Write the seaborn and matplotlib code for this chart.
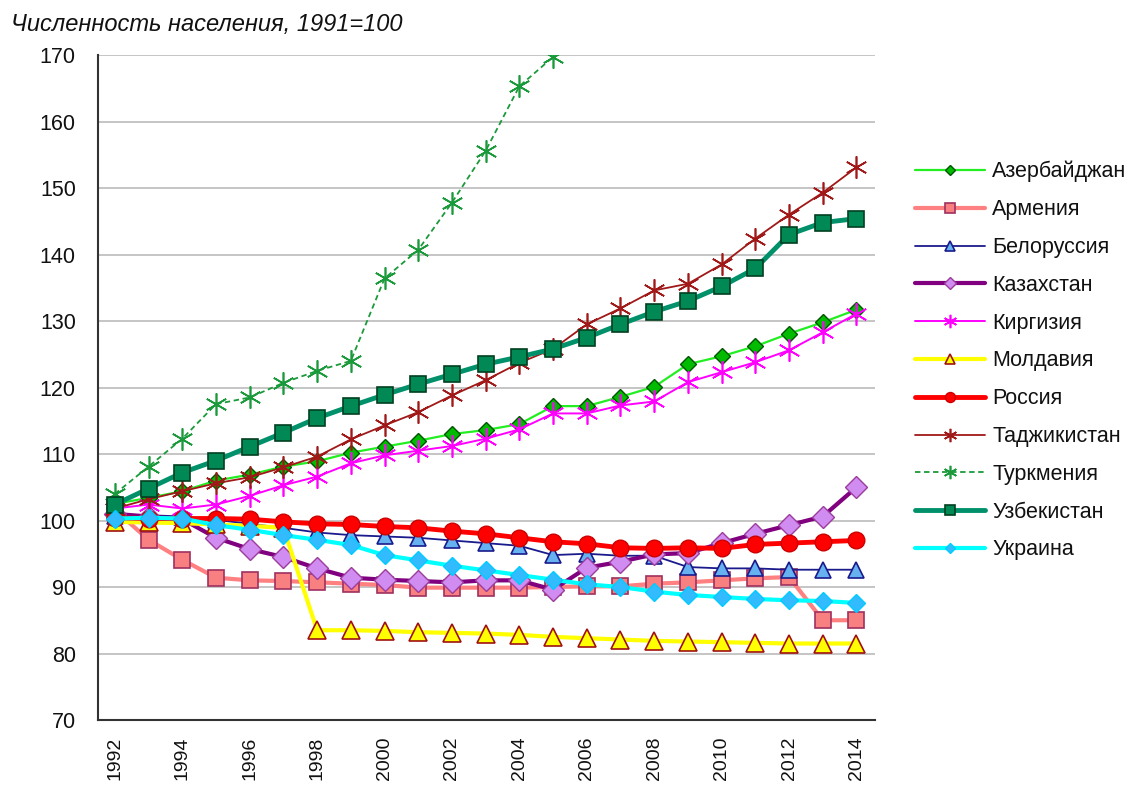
import matplotlib
matplotlib.use("Agg")
import matplotlib.pyplot as plt
import seaborn as sns
import numpy as np
import pandas as pd

years = list(range(1992, 2015))

azerbaijan = [102.5, 103.4, 104.4, 106.0, 106.9, 108.1, 108.9, 110.2, 111.1, 112.0, 113.0, 113.6,
              114.5, 117.2, 117.2, 118.6, 120.1, 123.5, 124.7, 126.2, 128.1, 129.8, 131.7]
armenia = [101.6, 97.1, 94.1, 91.4, 91.0, 90.9, 90.7, 90.5, 90.3, 89.9, 89.9, 89.9,
           89.9, 90.0, 90.1, 90.1, 90.5, 90.7, 91.0, 91.3, 91.5, 85.0, 85.0]
belarus = [100.7, 100.8, 100.6, 100.1, 99.5, 98.9, 98.2, 97.8, 97.6, 97.4, 97.0, 96.6,
           96.2, 94.8, 95.0, 94.7, 94.7, 93.0, 92.8, 92.8, 92.6, 92.6, 92.6]
kazakhstan = [101.0, 100.6, 100.2, 97.4, 95.7, 94.5, 92.8, 91.4, 91.1, 90.9, 90.7, 91.0,
              91.0, 89.6, 92.9, 93.8, 94.9, 95.1, 96.6, 98.0, 99.3, 100.6, 105.0]
kyrgyzstan = [101.8, 102.4, 101.8, 102.4, 103.7, 105.3, 106.6, 108.6, 109.8, 110.5, 111.2, 112.3,
              113.7, 116.1, 116.1, 117.3, 117.9, 120.8, 122.3, 123.8, 125.6, 128.3, 131.1]
moldova = [99.8, 99.7, 99.6, 99.4, 99.2, 98.9, 83.5, 83.5, 83.4, 83.2, 83.1, 83.0,
           82.8, 82.5, 82.3, 82.1, 81.9, 81.8, 81.7, 81.6, 81.5, 81.5, 81.5]
russia = [100.4, 100.3, 100.3, 100.3, 100.2, 99.8, 99.5, 99.4, 99.1, 98.9, 98.4, 98.0,
          97.4, 96.8, 96.5, 95.9, 95.8, 95.9, 95.8, 96.4, 96.6, 96.8, 97.0]
tajikistan = [101.8, 103.2, 104.4, 105.6, 106.5, 108.0, 109.6, 112.2, 114.3, 116.3, 118.8, 121.1,
              123.7, 125.8, 129.5, 131.9, 134.6, 135.6, 138.5, 142.4, 146.0, 149.3, 153.1]
turkmenistan = [104.0, 108.1, 112.3, 117.5, 118.5, 120.7, 122.5, 124.0, 136.4, 140.7, 147.8, 155.6,
                165.3, 169.7, None, None, None, None, None, None, None, None, None]
uzbekistan = [102.4, 104.8, 107.2, 109.0, 111.1, 113.2, 115.4, 117.2, 118.9, 120.5, 122.0, 123.5,
              124.6, 125.8, 127.5, 129.5, 131.4, 133.0, 135.2, 137.9, 143.0, 144.8, 145.4]
ukraine = [100.3, 100.4, 100.3, 99.3, 98.6, 97.8, 97.1, 96.3, 94.8, 94.0, 93.2, 92.5,
           91.8, 91.1, 90.4, 90.0, 89.3, 88.8, 88.5, 88.2, 88.0, 87.9, 87.6]

names = ["Азербайджан", "Армения", "Белоруссия", "Казахстан", "Киргизия", "Молдавия",
         "Россия", "Таджикистан", "Туркмения", "Узбекистан", "Украина"]
series = [azerbaijan, armenia, belarus, kazakhstan, kyrgyzstan, moldova,
          russia, tajikistan, turkmenistan, uzbekistan, ukraine]

ast6 = (6, 2, 0)
styles = {
    "Азербайджан": dict(color="#22ee22", lw=1.6, ls="-", marker="D", ms=8, mfc="#00bb00", mec="#005500", mew=1.0),
    "Армения": dict(color="#ff8080", lw=3.0, ls="-", marker="s", ms=12, mfc="#f88080", mec="#a03060", mew=1.2),
    "Белоруссия": dict(color="#1a1a8c", lw=1.3, ls="-", marker="^", ms=12, mfc="#66b2f0", mec="#1a1a8c", mew=1.2),
    "Казахстан": dict(color="#800080", lw=3.0, ls="-", marker="D", ms=11, mfc="#d08cf0", mec="#9c3c9c", mew=1.0),
    "Киргизия": dict(color="#ff00ff", lw=1.4, ls="-", marker=ast6, ms=16, mfc="#ff00ff", mec="#ff00ff", mew=1.2),
    "Молдавия": dict(color="#ffff00", lw=3.0, ls="-", marker="^", ms=13, mfc="#ffff00", mec="#a01010", mew=1.2),
    "Россия": dict(color="#ff0000", lw=3.5, ls="-", marker="o", ms=12, mfc="#ff0000", mec="#cc0000", mew=1.0),
    "Таджикистан": dict(color="#a01818", lw=1.3, ls="-", marker=ast6, ms=16, mfc="#a01818", mec="#a01818", mew=1.2),
    "Туркмения": dict(color="#1a9a3a", lw=1.3, ls=(0, (3, 2)), marker=ast6, ms=16, mfc="#1a9a3a", mec="#1a9a3a", mew=1.2),
    "Узбекистан": dict(color="#00916a", lw=3.5, ls="-", marker="s", ms=12, mfc="#008855", mec="#004020", mew=1.2),
    "Украина": dict(color="#00ffff", lw=3.0, ls="-", marker="D", ms=9, mfc="#33bbff", mec="#00ccff", mew=1.0),
}

sns.set_theme(style="white")
plt.rcParams['font.family'] = ['Liberation Sans', 'DejaVu Sans']

fig = plt.figure(figsize=(11.3, 7.89), dpi=100)
ax = fig.add_axes([98 / 1130, 1 - 720 / 789, (875 - 98) / 1130, (720 - 55) / 789])

handles = []
for name, vals in zip(names, series):
    df = pd.DataFrame({"year": years, "value": vals}).dropna()
    st = styles[name]
    sns.lineplot(data=df, x="year", y="value", ax=ax, color=st["color"], linewidth=st["lw"],
                 linestyle=st["ls"], marker=st["marker"], markersize=st["ms"],
                 markerfacecolor=st["mfc"], markeredgecolor=st["mec"], markeredgewidth=st["mew"],
                 label=name, legend=False, zorder=3)
    handles.append(ax.lines[-1])

ax.set_xlim(1991.5, 2014.55)
ax.set_ylim(70, 170)
ax.set_yticks(range(70, 171, 10))
ax.set_xticks(range(1992, 2015, 2))
ax.set_xticklabels([str(y) for y in range(1992, 2015, 2)], rotation=90)
ax.yaxis.grid(True, color="#c0c0c0", linewidth=1.3, zorder=0)
ax.xaxis.grid(False)
ax.set_xlabel("")
ax.set_ylabel("")
for s in ["top", "right"]:
    ax.spines[s].set_visible(False)
for s in ["left", "bottom"]:
    ax.spines[s].set_color("#333333")
    ax.spines[s].set_linewidth(1.5)
ax.tick_params(axis="y", length=0, pad=16, labelsize=15.5, labelcolor="#111111")
ax.tick_params(axis="x", length=0, pad=12, labelsize=14, labelcolor="#111111")

fig.text(11 / 1130, 1 - 24 / 789, "Численность населения, 1991=100", fontsize=17,
         style="italic", va="center", ha="left", color="#111111")

leg = fig.legend(handles=handles, labels=names, loc="upper left",
                 bbox_to_anchor=(915 / 1130, 1 - 161 / 789), frameon=False,
                 fontsize=15.5, handlelength=3.25, handletextpad=0.33, labelspacing=0.78,
                 markerscale=0.6, numpoints=1, borderaxespad=0, borderpad=0)
for t in leg.get_texts():
    t.set_color("#111111")

fig.savefig("out.png", dpi=100)
